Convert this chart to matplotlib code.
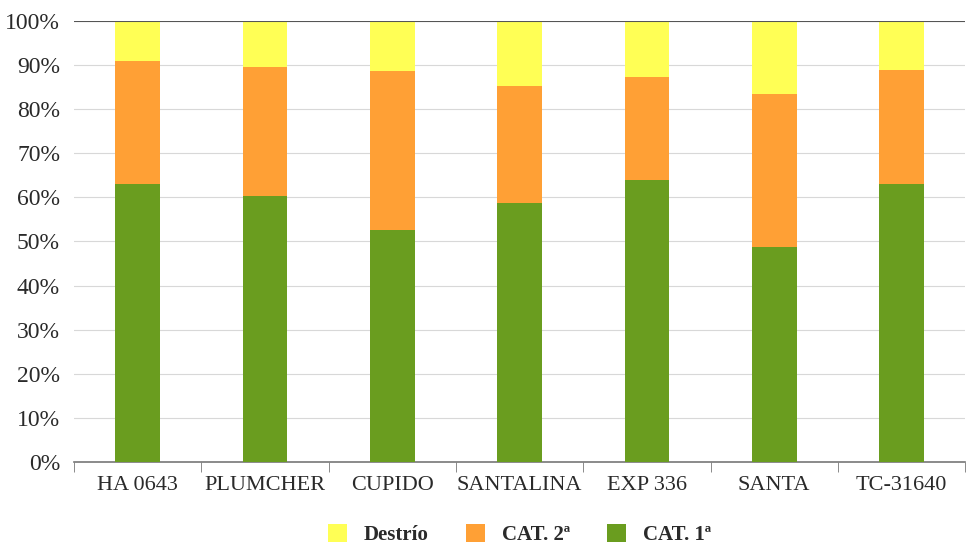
#!/usr/bin/env python3
# -*- coding: utf-8 -*-
import numpy as np
import matplotlib.pyplot as plt
from matplotlib.ticker import MultipleLocator, FuncFormatter

variedades = ['HA 0643', 'PLUMCHER', 'CUPIDO', 'SANTALINA', 'EXP 336', 'SANTA', 'TC-31640']
cat1 = [63.0, 60.3, 52.6, 58.7, 63.9, 48.8, 63.0]
cat2 = [27.9, 29.3, 36.1, 26.6, 23.4, 34.6, 25.9]
destrio = [100 - a - b for a, b in zip(cat1, cat2)]

plt.rcParams['font.family'] = ['Liberation Serif', 'DejaVu Serif']

fig = plt.figure(figsize=(9.73, 5.51), dpi=100)
ax = fig.add_axes([0.076, 0.1615, 0.916, 0.8005])

x = np.arange(len(variedades))
w = 0.35
c_verde = '#6a9d1f'
c_naranja = '#ffa035'
c_amarillo = '#ffff55'

b1 = ax.bar(x, cat1, w, color=c_verde, zorder=3)
b2 = ax.bar(x, cat2, w, bottom=cat1, color=c_naranja, zorder=3)
b3 = ax.bar(x, destrio, w, bottom=np.array(cat1) + np.array(cat2), color=c_amarillo, zorder=3)

ax.set_xlim(-0.5, len(variedades) - 0.5)
ax.set_ylim(0, 100)
ax.yaxis.set_major_locator(MultipleLocator(10))
ax.yaxis.set_major_formatter(FuncFormatter(lambda v, p: '%d%%' % v))
ax.grid(axis='y', color='#d8d8d8', linewidth=0.8, zorder=0)
ax.axhline(100, color='#555555', linewidth=1.5, zorder=4)

for s in ['left', 'right', 'top']:
    ax.spines[s].set_visible(False)
ax.spines['bottom'].set_color('#777777')
ax.spines['bottom'].set_linewidth(1.2)

ax.set_xticks(x)
ax.set_xticklabels(variedades)
ax.set_xticks(np.arange(-0.5, len(variedades), 1), minor=True)
ax.tick_params(axis='x', which='major', length=0, labelsize=16, pad=10, colors='#2a2a2a')
ax.tick_params(axis='x', which='minor', length=7, color='#777777')
ax.tick_params(axis='y', length=0, labelsize=17, pad=10, colors='#2a2a2a')

leg = ax.legend([b3, b2, b1], ['Destrío', 'CAT. 2ª', 'CAT. 1ª'], loc='center',
                bbox_to_anchor=(0.5, -0.165), ncol=3, frameon=False,
                prop={'weight': 'bold', 'size': 15}, handlelength=0.9, handleheight=0.9,
                handletextpad=0.8, columnspacing=1.8)
for t in leg.get_texts():
    t.set_color('#2a2a2a')

fig.savefig('out.png', dpi=100)
